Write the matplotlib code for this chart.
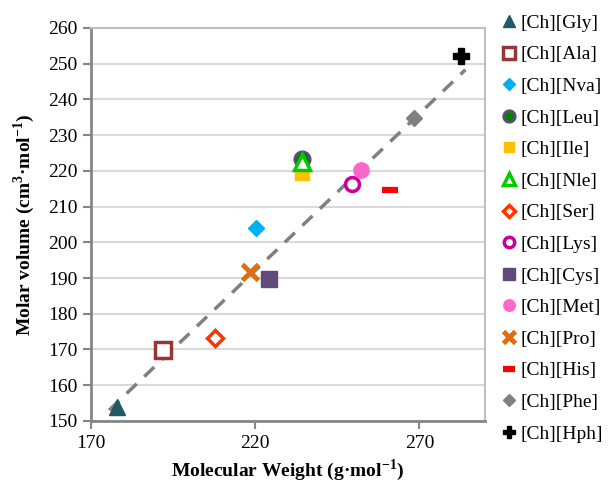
import matplotlib
matplotlib.use("Agg")
import matplotlib.pyplot as plt

plt.rcParams["font.family"] = ["Liberation Serif", "DejaVu Serif"]
plt.rcParams["mathtext.fontset"] = "custom"
plt.rcParams["mathtext.rm"] = "Liberation Serif"
plt.rcParams["mathtext.bf"] = "Liberation Serif:bold"

# Datos
names = ["[Ch][Gly]", "[Ch][Ala]", "[Ch][Nva]", "[Ch][Leu]", "[Ch][Ile]",
         "[Ch][Nle]", "[Ch][Ser]", "[Ch][Lys]", "[Ch][Cys]", "[Ch][Met]",
         "[Ch][Pro]", "[Ch][His]", "[Ch][Phe]", "[Ch][Hph]"]
mw = [177.9, 192.0, 220.3, 234.3, 234.3, 234.3, 207.8, 249.6, 224.3, 252.3,
      218.5, 260.9, 268.2, 282.5]
vm = [153.9, 169.9, 204.1, 223.4, 219.5, 222.6, 173.2, 216.4, 189.8, 220.3,
      191.7, 214.7, 234.9, 252.2]

# línea de tendencia (extremos)
trend_x = [175.5, 284.0]
trend_y = [153.0, 248.3]

# estilos: marcador, cara, borde, tamaño, grosor borde
styles = [
    ("^", "#215967", "#215967", 11, 1),
    ("s", "white", "#953735", 11, 2.5),
    ("D", "#00b0f0", "#00b0f0", 8, 1),
    ("o", "#008000", "#604a7b", 11, 2),
    ("s", "#ffc000", "#ffc000", 10, 1),
    ("^", "white", "#00cc00", 11, 2.5),
    ("D", "white", "#ff3300", 8, 2.5),
    ("o", "white", "#cc0099", 10, 2.5),
    ("s", "#604a7b", "#604a7b", 11, 1),
    ("o", "#ff66cc", "#ff66cc", 11, 1),
    ("x", "#e46c0a", "#e46c0a", 11, 3.5),
    ("_", "#ff0000", "#ff0000", 11, 4.5),
    ("D", "#808080", "#808080", 8, 1),
    ("P", "black", "black", 12, 1),
]

fig = plt.figure(figsize=(6.11, 4.9), dpi=100)
ax = fig.add_axes([0.149, 0.141, 0.645, 0.802])

ax.plot(trend_x, trend_y, color="#808080", lw=2.5, ls=(0, (4, 3)), zorder=2)

for n, x, y, st in zip(names, mw, vm, styles):
    m, fc, ec, ms, mew = st
    ax.plot([x], [y], ls="none", marker=m, markerfacecolor=fc,
            markeredgecolor=ec, markersize=ms, markeredgewidth=mew,
            label=n, zorder=3)

ax.set_xlim(170, 290)
ax.set_ylim(150, 260)
ax.set_xticks([170, 220, 270])
ax.set_yticks(range(150, 261, 10))
ax.yaxis.grid(True, color="#d9d9d9", lw=1.5)
ax.set_axisbelow(True)

for s in ["left", "bottom"]:
    ax.spines[s].set_color("#868686")
    ax.spines[s].set_linewidth(2)
for s in ["top", "right"]:
    ax.spines[s].set_color("#bfbfbf")
    ax.spines[s].set_linewidth(1.5)
ax.tick_params(direction="out", length=6, width=1.5, color="#868686",
               labelsize=14, pad=4)

ax.set_xlabel(r"Molecular Weight (g·mol$^{\mathbf{-1}}$)", fontsize=14,
              fontweight="bold", labelpad=4)
ax.set_ylabel(r"Molar volume (cm$^{\mathbf{3}}$·mol$^{\mathbf{-1}}$)", fontsize=14,
              fontweight="bold", labelpad=8)

ax.legend(loc="upper left", bbox_to_anchor=(1.02, 1.055), frameon=False,
          fontsize=14, handlelength=0.8, handletextpad=0.2, labelspacing=0.72,
          borderaxespad=0, markerscale=0.75)

plt.savefig("out.png", dpi=100)
